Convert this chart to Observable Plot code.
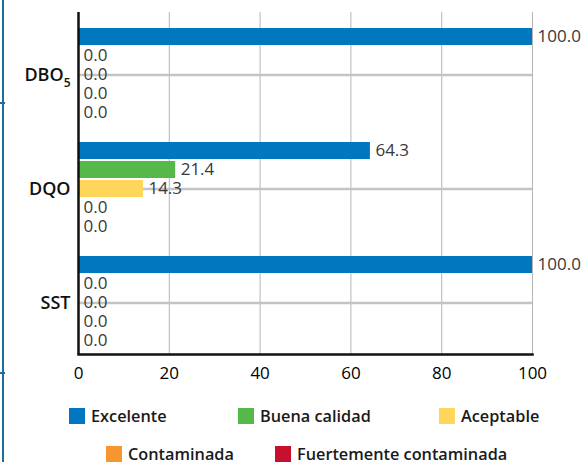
<!DOCTYPE html>
<html><head><meta charset="utf-8">
<script src="https://cdn.jsdelivr.net/npm/d3@7"></script>
<script src="https://cdn.jsdelivr.net/npm/@observablehq/plot@0.6"></script>
<style>
body{margin:0;background:#fff;font-family:"Open Sans",sans-serif;}
#wrap{position:relative;width:587px;height:462px;overflow:hidden;background:#fff;}
#edge{position:absolute;left:2px;top:0;width:2px;height:462px;background:#1e6d9c;}
.nick{position:absolute;left:0;width:5px;height:2px;background:#1e6d9c;}
#chart{position:absolute;left:0;top:0;}
.item{position:absolute;display:flex;align-items:center;height:22px;font-weight:600;font-size:16.3px;color:#1a1a1a;white-space:nowrap;}
.sw{width:16px;height:16px;margin-right:6px;flex:none;}
g[aria-label^="x-axis"] text{font-size:17px;}
</style>
</head><body>
<div id="wrap">
  <div id="edge"></div>
  <div class="nick" style="top:102px"></div>
  <div class="nick" style="top:372px"></div>
  <div id="chart"></div>
</div>
<script>
const categories = ["DBO5", "DQO", "SST"];
const series = ["Excelente", "Buena calidad", "Aceptable", "Contaminada", "Fuertemente contaminada"];
const colors = ["#0077bf", "#57b84a", "#ffd55a", "#f7962e", "#c8102e"];
const dbo5 = [100.0, 0.0, 0.0, 0.0, 0.0];
const dqo = [64.3, 21.4, 14.3, 0.0, 0.0];
const sst = [100.0, 0.0, 0.0, 0.0, 0.0];
const xTicks = [0, 20, 40, 60, 80, 100];

// legend layout (left, top of each legend item in pixels)
const legendLayout = [[69, 405], [238, 405], [439, 405], [106, 443], [275, 443]];

const valuesByCat = {"DBO5": dbo5, "DQO": dqo, "SST": sst};
const data = [];
categories.forEach(c => series.forEach((s, i) => data.push({cat: c, series: s, key: c + "|" + s, value: valuesByCat[c][i]})));
// band domain: each category's series, with one empty slot between groups
const yDomain = [];
categories.forEach((c, ci) => {
  if (ci > 0) yDomain.push("gap" + ci);
  series.forEach(s => yDomain.push(c + "|" + s));
});
const mid = categories.map(c => ({cat: c, key: c + "|" + series[2]}));

const plot = Plot.plot({
  width: 587,
  height: 392,
  marginLeft: 78,
  marginRight: 55,
  marginTop: 12,
  marginBottom: 38,
  style: {fontFamily: "'Open Sans', sans-serif", fontSize: "17px", background: "transparent"},
  x: {domain: [0, 100], ticks: xTicks, tickSize: 0, tickPadding: 12, label: null},
  y: {domain: yDomain, axis: null, range: [25, 351.5], paddingInner: 0.12, paddingOuter: 0},
  color: {domain: series, range: colors},
  marks: [
    Plot.ruleX(xTicks, {stroke: "#b5b5b5", strokeWidth: 1}),
    Plot.ruleY(mid, {y: "key", stroke: "#c4c4c4", strokeWidth: 2.5}),
    Plot.barX(data, {x: "value", y: "key", fill: "series"}),
    Plot.text(data, {x: "value", y: "key", text: d => d.value.toFixed(1), textAnchor: "start", dx: 5, fill: "#383838", fontSize: 17}),
    Plot.text(mid, {y: "key", text: "cat", frameAnchor: "left", textAnchor: "end", dx: -8, fontWeight: 600, fontSize: 18, fill: "#111"}),
    Plot.ruleX([0], {stroke: "#111", strokeWidth: 2.5}),
    Plot.frame({anchor: "bottom", stroke: "#111", strokeWidth: 2.5})
  ]
});
document.getElementById("chart").appendChild(plot);

// subscript for DBO5
d3.select(plot).selectAll("text").each(function() {
  if (this.textContent === "DBO5") {
    const t = d3.select(this);
    t.text("DBO");
    t.append("tspan").attr("font-size", 12).attr("dy", 6).text("5");
  }
});

// legend
const wrap = d3.select("#wrap");
series.forEach((s, i) => {
  const it = wrap.append("div").attr("class", "item")
    .style("left", legendLayout[i][0] + "px").style("top", legendLayout[i][1] + "px");
  it.append("div").attr("class", "sw").style("background", colors[i]);
  it.append("span").text(s);
});
</script>
</body></html>
